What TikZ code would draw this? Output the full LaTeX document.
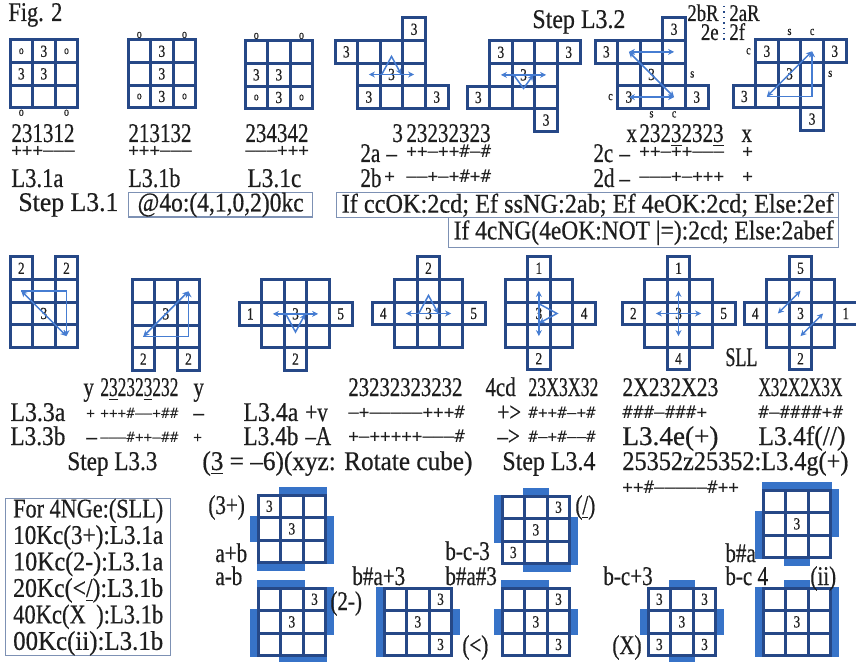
\documentclass[tikz,border=0pt]{standalone}
\usepackage{fontspec}
\setmainfont{Liberation Serif}[FakeStretch=0.78,FakeBold=0.5]
\newfontfamily\sgnfont{DejaVu Sans Mono}
\usetikzlibrary{arrows.meta, positioning, calc, backgrounds}
\definecolor{gblue}{RGB}{38, 72,135}
\definecolor{ablue}{RGB}{70,125,210}
\definecolor{bblue}{RGB}{55,115,200}
\definecolor{boxc} {RGB}{125,145,180}
\definecolor{tgray}{RGB}{30, 30, 30}
\tikzset{
  % grid cell
  cell/.style={rectangle,draw=gblue,line width=1.5pt,minimum size=11.3pt,
               inner sep=0pt,font=\fontsize{8.5}{8.5}\selectfont,text=tgray},
  % running text
  txt/.style={anchor=base west,inner sep=0pt,
              font=\fontsize{13.5}{14}\selectfont,text=tgray},
  txtR/.style={txt,anchor=base east},
  % sign strings
  sgn/.style={anchor=base west,inner sep=0pt,
              font=\sgnfont\fontsize{#1}{10}\selectfont,text=tgray},
  sgn/.default=8.8,
  % small marks
  lbl/.style={inner sep=0pt,font=\fontsize{6.5}{6.5}\selectfont,text=tgray},
  % framed notes
  infobox/.style={rectangle,draw=boxc,line width=0.7pt,inner sep=0pt,
                  font=\fontsize{13.5}{14}\selectfont,text=tgray},
  % arrows
  arr/.style={-{Stealth[length=3pt,width=3pt]},draw=ablue,line width=0.75pt},
  dbl/.style={arr,{Stealth[length=3pt,width=3pt]}-{Stealth[length=3pt,width=3pt]}},
  bar/.style={fill=bblue},
}
\newcommand\so{{\fontsize{6}{6}\selectfont o}}
\newcommand\fitto[2]{\resizebox{#1}{\height}{#2}}
% cells given as col/row/label
\newcommand\cellset[4]{%
  \foreach \cc/\rr/\lab in {#4}{%
    \node[cell] (#1-\cc\rr) at ({#2+11.3+22.6*\cc},{#3+11.3+22.6*\rr}) {\lab};}}
% 3x3 face, labels row by row
\newcommand\facegrid[4]{%
  \foreach \lab [count=\k from 0] in {#4}{%
    \pgfmathtruncatemacro\cc{mod(\k,3)}%
    \pgfmathtruncatemacro\rr{div(\k,3)}%
    \node[cell] (#1-\cc\rr) at ({#2+11.3+22.6*\cc},{#3+11.3+22.6*\rr}) {\lab};}}
% side bars of a face
\newcommand\tbar[2]{\fill[bar] (#1.north west) rectangle ($(#2.north east)+(0,-7)$);}
\newcommand\bbar[2]{\fill[bar] (#1.south west) rectangle ($(#2.south east)+(0,7)$);}
\newcommand\lbar[2]{\fill[bar] (#1.north west) rectangle ($(#2.south west)+(-7,0)$);}
\newcommand\rbar[2]{\fill[bar] (#1.north east) rectangle ($(#2.south east)+(7,0)$);}

\begin{document}
\begin{tikzpicture}[x=0.5pt,y=-0.5pt]
\useasboundingbox (0,0) rectangle (856,662);

% ---------------- Step L3.1 ----------------
\node[txt] (fig) at (8,21) {\fitto{27pt}{Fig. 2}};
\facegrid{g1}{10}{40}{\so,3,\so,3,3,{},{},{},{}}
\facegrid{g2}{128}{40}{{},3,{},{},3,{},\so,3,\so}
\facegrid{g3}{245}{41}{{},{},{},3,3,{},\so,3,\so}
\node[lbl,below=0pt of g1-02] (o1a) {o};
\node[lbl,below=0pt of g1-22] (o1b) {o};
\node[lbl,above=0pt of g2-00] (o2a) {o};
\node[lbl,above=0pt of g2-20] (o2b) {o};
\node[lbl,above=0pt of g3-00] (o3a) {o};
\node[lbl,above=0pt of g3-20] (o3b) {o};

\node[txt] (d1a) at (11,142) {231312};
\node[txt] (d1b) at (128,142) {213132};
\node[txt] (d1c) at (245,142) {234342};
\node[sgn] (s1a) at (11,157) {+++———};
\node[sgn] (s1b) at (128,157) {+++———};
\node[sgn] (s1c) at (245,157) {———+++};
\node[txt] (l1a) at (11,187) {\fitto{26pt}{L3.1a}};
\node[txt] (l1b) at (128,187) {\fitto{26pt}{L3.1b}};
\node[txt] (l1c) at (247,187) {\fitto{27pt}{L3.1c}};
\node[txt] (st1) at (18,211) {\fitto{50pt}{Step L3.1}};
\node[infobox,anchor=north west,minimum width=92pt,minimum height=11.5pt]
      (box1) at (128,192) {\fitto{83pt}{@4o:(4,1,0,2)0kc}};

% ---------------- Step L3.2 ----------------
\cellset{g4}{335}{18}{3/0/3,0/1/3,1/1/{},2/1/{},3/1/{},1/2/{},2/2/3,3/2/{},
                      1/3/3,2/3/{},3/3/{},4/3/3}
\cellset{g5}{467}{41}{1/0/3,2/0/{},3/0/{},4/0/3,1/1/{},2/1/3,3/1/{},
                      0/2/3,1/2/{},2/2/{},3/2/{},3/3/3}
\cellset{g6}{595}{18}{3/0/3,0/1/3,1/1/{},2/1/{},3/1/{},1/2/{},2/2/3,3/2/{},
                      1/3/3,2/3/{},3/3/{},4/3/3}
\cellset{g7}{733}{40}{1/0/3,2/0/{},3/0/{},4/0/3,1/1/{},2/1/3,3/1/{},
                      0/2/3,1/2/{},2/2/{},3/2/{},3/3/3}
\draw[dbl] (g4-12.center) -- (g4-32.center);
\draw[arr] (g4-12.east) -- ($(g4-22.center)!0.8!(g4-21.center)$) -- (g4-32.west);
\draw[dbl] (g5-11.center) -- (g5-31.center);
\draw[arr] (g5-11.east) -- ($(g5-21.center)!0.6!(g5-22.center)$) -- (g5-31.west);
\draw[dbl] (g6-11.center) -- (g6-31.center);
\draw[dbl] (g6-11.center) -- (g6-33.center);
\draw[dbl] (g6-13.center) -- (g6-33.center);
\draw[dbl] (g7-12.center) -- (g7-30.center);
\draw[arr] (g7-12.center) -- (g7-32.center) -- (g7-30.center);
\node[lbl,left=1.5pt of g6-13] (c6a) {c};
\node[lbl,right=1.5pt of g6-32] (s6a) {s};
\node[lbl,below=0.5pt of g6-23] (s6b) {s};
\node[lbl,below=0.5pt of g6-33] (c6b) {c};
\node[lbl,left=1.5pt of g7-10] (c7a) {c};
\node[lbl,above=1.5pt of g7-20] (s7a) {s};
\node[lbl,above=1.5pt of g7-30] (c7b) {c};
\node[lbl,right=1.5pt of g7-31] (s7b) {s};

\node[txt] (st2) at (532,28) {\fitto{46.5pt}{Step L3.2}};
\node[txtR,font=\fontsize{12}{12}\selectfont] (k2bR) at (719,21) {2bR};
\node[txt,font=\fontsize{12}{12}\selectfont] (k2aR) at (729,21) {2aR};
\node[txtR,font=\fontsize{12}{12}\selectfont] (k2e) at (719,40) {2e};
\node[txt,font=\fontsize{12}{12}\selectfont] (k2f) at (729,40) {2f};
\coordinate (dtop) at (724,6);
\coordinate (dbot) at (724,43);
\draw[gblue,dotted,line width=0.7pt] (dtop) -- (dbot);

\node[txt] (d2t) at (392,142) {3};
\node[txt] (d2a) at (406,142) {23232323};
\node[txt] (k2a) at (360,162) {2a};
\node[txt] (m2a) at (386,162) {–};
\node[sgn] (s2a) at (406,158) {++—++\#—\#};
\node[txt] (k2b) at (360,187) {2b};
\node[sgn] (m2b) at (384,183) {+};
\node[sgn] (s2b) at (406,183) {——+—+\#+\#};

\node[txt] (x2l) at (626,142) {x};
\node[txt] (d2c) at (639,142) {232\underline{3}232\underline{3}};
\node[txt] (x2r) at (741,142) {x};
\node[txt] (k2c) at (593,162) {2c};
\node[txt] (m2c) at (619,162) {–};
\node[sgn] (s2c) at (639,158) {++—++———};
\node[sgn] (e2c) at (742,158) {+};
\node[txt] (k2d) at (593,187) {2d};
\node[txt] (m2d) at (619,187) {–};
\node[sgn] (s2d) at (639,183) {———+—+++};
\node[sgn] (e2d) at (742,183) {+};

\node[infobox,anchor=north west,minimum width=251pt,minimum height=12.5pt]
      (box2) at (336,192)
      {\fitto{246pt}{If ccOK:2cd; Ef ssNG:2ab; Ef 4eOK:2cd; Else:2ef}};
\node[infobox,anchor=north west,minimum width=195pt,minimum height=15pt]
      (box3) at (448,217) {\fitto{190pt}{If 4cNG(4eOK:NOT |=):2cd; Else:2abef}};

% ---------------- Step L3.3 ----------------
\cellset{ga}{10}{257}{0/0/2,2/0/2,0/1/{},1/1/{},2/1/{},0/2/{},1/2/3,2/2/{},
                      0/3/{},1/3/{},2/3/{}}
\cellset{gb}{132}{280}{0/0/{},1/0/{},2/0/{},0/1/{},1/1/3,2/1/{},0/2/{},1/2/{},
                       2/2/{},0/3/2,2/3/2}
\draw[dbl] (ga-01.center) -- (ga-23.center);
\draw[arr] (ga-01.center) -- (ga-21.center) -- (ga-23.center);
\draw[dbl] (gb-02.center) -- (gb-20.center);
\draw[arr] (gb-02.center) -- (gb-22.center) -- (gb-20.center);

\node[txt] (y3l) at (83,396) {y};
\node[txt] (d3) at (100,396) {\fitto{39pt}{2\underline{3}232\underline{3}232}};
\node[txt] (y3r) at (193,396) {y};
\node[txt] (l3a) at (10,421) {\fitto{27.5pt}{L3.3a}};
\node[sgn=7.2] (m3a) at (86,418) {+};
\node[sgn=7.2] (s3a) at (100,418) {+++\#——+\#\#};
\node[txt] (e3a) at (193,421) {–};
\node[txt] (l3b) at (10,445) {\fitto{27.5pt}{L3.3b}};
\node[txt] (m3b) at (86,445) {–};
\node[sgn=7.2] (s3b) at (100,442) {———\#++—\#\#};
\node[sgn=7.2] (e3b) at (193,442) {+};
\node[txt] (st3) at (67,470) {\fitto{45pt}{Step L3.3}};

% ---------------- Step L3.4 ----------------
\cellset{gc}{239}{280}{1/0/{},2/0/{},3/0/{},0/1/1,1/1/{},2/1/3,3/1/{},4/1/5,
                       1/2/{},2/2/{},3/2/{},2/3/2}
\cellset{gd}{372}{257}{2/0/2,1/1/{},2/1/{},3/1/{},0/2/4,1/2/{},2/2/3,3/2/{},
                       4/2/5,1/3/{},2/3/{},3/3/{}}
\cellset{ge}{505}{257}{1/0/1,0/1/{},1/1/{},2/1/{},0/2/{},1/2/3,2/2/{},3/2/4,
                       0/3/{},1/3/{},2/3/{},1/4/2}
\cellset{gf}{622}{257}{2/0/1,1/1/{},2/1/{},3/1/{},0/2/2,1/2/{},2/2/3,3/2/{},
                       4/2/5,1/3/{},2/3/{},3/3/{},2/4/4}
\cellset{gg}{744}{257}{2/0/5,1/1/{},2/1/{},3/1/{},0/2/4,1/2/{},2/2/3,3/2/{},
                       4/2/1,1/3/{},2/3/{},3/3/{},2/4/2}
\draw[dbl] (gc-11.center) -- (gc-31.center);
\draw[arr] (gc-11.east) -- ($(gc-21.center)!0.8!(gc-22.center)$) -- (gc-31.west);
\draw[dbl] (gd-12.center) -- (gd-32.center);
\draw[arr] (gd-12.east) -- ($(gd-22.center)!0.8!(gd-21.center)$) -- (gd-32.west);
\draw[dbl] (ge-11.center) -- (ge-13.center);
\draw[arr] (ge-11.south) -- ($(ge-12.center)!0.8!(ge-22.center)$) -- (ge-13.north);
\draw[dbl] (gf-12.center) -- (gf-32.center);
\draw[dbl] (gf-21.center) -- (gf-23.center);
\draw[dbl] (gg-12.center) -- (gg-21.center);
\draw[dbl] (gg-23.center) -- (gg-32.center);
\node[txt] (sll) at (725,366) {\fitto{16pt}{SLL}};

\node[txt] (d4a) at (348,396) {\fitto{57pt}{23232323232}};
\node[txt] (l4a) at (243,421) {\fitto{27.5pt}{L3.4a}};
\node[txt] (v4a) at (305,421) {+v};
\node[sgn] (s4a) at (348,418) {—+—————+++\#};
\node[txt] (l4b) at (243,445) {\fitto{27.5pt}{L3.4b}};
\node[txt] (v4b) at (305,445) {–A};
\node[sgn] (s4b) at (348,442) {+—+++++———\#};
\node[txt] (k4cd) at (485,396) {4cd};
\node[txt] (d4c) at (528,396) {\fitto{35pt}{23X3X32}};
\node[txt] (p4c) at (497,421) {+>};
\node[sgn=8] (s4c) at (528,418) {\#++\#—+\#};
\node[txt] (p4d) at (497,445) {–>};
\node[sgn=8] (s4d) at (528,442) {\#—+\#——\#};
\node[txt] (d4e) at (622,396) {\fitto{48pt}{2X232X23}};
\node[sgn] (s4e) at (622,418) {\#\#\#—\#\#\#+};
\node[txt] (l4e) at (622,445) {\fitto{48pt}{L3.4e(+)}};
\node[txt] (d4f) at (758,396) {\fitto{42pt}{X32X2X3X}};
\node[sgn] (s4f) at (758,418) {\#—\#\#\#\#+\#};
\node[txt] (l4f) at (758,445) {\fitto{43.5pt}{L3.4f(//)}};
\node[txt] (rot) at (202,470) {\fitto{135pt}{(\underline{3} = –6)(xyz: Rotate cube)}};
\node[txt] (st4) at (502,470) {\fitto{46.5pt}{Step L3.4}};
\node[txt] (l4g) at (622,470) {\fitto{113pt}{25352z25352:L3.4g(+)}};
\node[sgn] (s4g) at (622,493) {++\#—————\#++};

% ---------------- SLL faces ----------------
\node[infobox,anchor=north west,minimum width=82.5pt,minimum height=76pt,
      align=left,font=\fontsize{13.5}{11.8}\selectfont] (sllbox) at (5,498)
      {\fitto{75pt}{For 4NGe:(SLL)}\\\fitto{75pt}{10Kc(3+):L3.1a}\\
       \fitto{75pt}{10Kc(2-):L3.1a}\\\fitto{75pt}{20Kc(<\underline{/}):L3.1b}\\
       \fitto{75pt}{40Kc(X\ \,):L3.1b}\\\fitto{75pt}{00Kc(ii):L3.1b}};

\facegrid{k1}{258}{495}{3,{},{},{},3,{},{},{},{}}
\facegrid{k2}{258}{588}{{},{},3,{},3,{},{},{},{}}
\facegrid{k3}{384}{588}{{},{},3,{},3,{},{},{},3}
\facegrid{k4}{502}{496}{{},{},3,{},3,{},3,{},{}}
\facegrid{k5}{502}{588}{{},{},3,{},3,{},{},{},3}
\facegrid{k6}{648}{588}{3,{},3,{},3,{},3,{},3}
\facegrid{k7}{763}{490}{{},{},{},{},3,{},{},{},{}}
\facegrid{k8}{763}{588}{{},{},{},{},3,{},{},{},{}}
\begin{scope}[on background layer]
  \tbar{k1-10}{k1-20} \lbar{k1-01}{k1-01} \rbar{k1-21}{k1-22} \bbar{k1-02}{k1-12}
  \tbar{k2-00}{k2-10} \lbar{k2-01}{k2-02} \rbar{k2-20}{k2-21} \bbar{k2-12}{k2-22}
  \lbar{k3-00}{k3-02} \rbar{k3-21}{k3-21}
  \tbar{k4-10}{k4-10} \lbar{k4-00}{k4-01} \rbar{k4-21}{k4-22} \bbar{k4-12}{k4-22}
  \tbar{k5-00}{k5-10} \lbar{k5-01}{k5-01} \rbar{k5-21}{k5-21}
  \tbar{k6-10}{k6-10} \lbar{k6-01}{k6-01} \rbar{k6-21}{k6-21} \bbar{k6-12}{k6-12}
  \tbar{k7-00}{k7-20} \lbar{k7-01}{k7-02} \rbar{k7-20}{k7-21} \bbar{k7-12}{k7-12}
  \tbar{k8-10}{k8-10} \lbar{k8-00}{k8-02} \rbar{k8-20}{k8-22}
\end{scope}

\node[txt] (f3p) at (208,514) {(3+)};
\node[txt] (fab) at (215,562) {a+b};
\node[txt] (famb) at (215,585) {a-b};
\node[txt] (f2m) at (330,610) {(2-)};
\node[txt] (fba3) at (352,585) {b\#a+3};
\node[txt] (flt) at (462,654) {(<)};
\node[txt] (fbc3) at (445,560) {b-c-3};
\node[txt] (fbaa) at (445,585) {b\#a\#3};
\node[txt] (fsl) at (575,514) {(\underline{/})};
\node[txt] (fbcp) at (603,585) {b-c+3};
\node[txt] (fx) at (612,654) {(X)};
\node[txt] (fba) at (725,562) {b\#a};
\node[txt] (fbc4) at (725,585) {b-c 4};
\node[txt] (fii) at (810,585) {(ii)};
\end{tikzpicture}
\end{document}
